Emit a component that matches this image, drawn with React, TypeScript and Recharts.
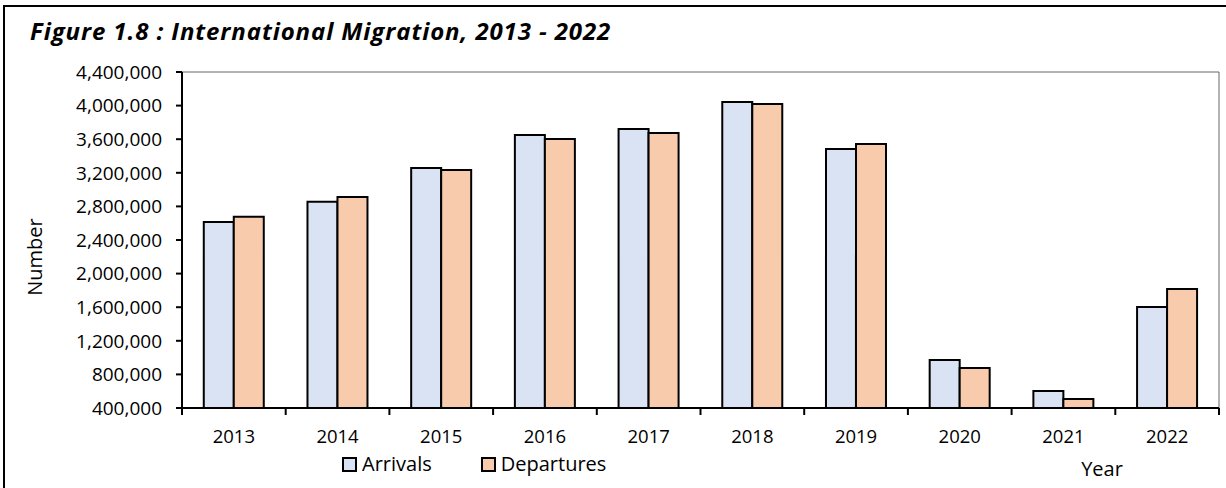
import React from 'react';
import { BarChart, Bar, XAxis, YAxis, Legend, ReferenceArea } from 'recharts';

const years = ['2013', '2014', '2015', '2016', '2017', '2018', '2019', '2020', '2021', '2022'];
const arrivals = [2614000, 2856000, 3257000, 3650000, 3721000, 4043000, 3483000, 971000, 602000, 1602000];
const departures = [2677000, 2912000, 3233000, 3602000, 3674000, 4019000, 3543000, 876000, 507000, 1817000];
const yTicks = [400000, 800000, 1200000, 1600000, 2000000, 2400000, 2800000, 3200000, 3600000, 4000000, 4400000];

const data = years.map((y, i) => ({ year: y, Arrivals: arrivals[i], Departures: departures[i] }));

const FONT = '"Open Sans", "Noto Sans", sans-serif';
const CHART_W = 1226;
const CHART_H = 488;
const YAXIS_W = 182;
const MARGIN = { top: 72, right: 7, bottom: 0, left: 0 };
const PLOT_W = CHART_W - YAXIS_W - MARGIN.right - MARGIN.left;

const fmt = (v: number) => v.toLocaleString('en-US');

const XTick = (props: any) => {
  const { x, y, payload, index } = props;
  const band = PLOT_W / years.length;
  const left = x - band / 2;
  const right = x + band / 2;
  return (
    <g>
      <line x1={left} y1={y} x2={left} y2={y + 7} stroke="#000" strokeWidth={2} />
      {index === years.length - 1 && (
        <line x1={right} y1={y} x2={right} y2={y + 7} stroke="#000" strokeWidth={2} />
      )}
      <text x={x} y={y + 35} textAnchor="middle" fontFamily={FONT} fontSize={18.5} fill="#000">
        {payload.value}
      </text>
    </g>
  );
};

const YLabel = (props: any) => {
  const vb = props.viewBox || { x: 0, y: 72, width: 182, height: 336 };
  const cx = vb.x + 34;
  const cy = vb.y + vb.height / 2 + 17;
  return (
    <text
      x={cx}
      y={cy}
      transform={`rotate(-90 ${cx} ${cy})`}
      textAnchor="middle"
      dominantBaseline="central"
      fontFamily={FONT}
      fontSize={20}
      fill="#000"
    >
      Number
    </text>
  );
};

const XLabel = (props: any) => {
  const vb = props.viewBox || { x: 182, y: 408, width: 1037, height: 80 };
  return (
    <text
      x={vb.x + vb.width - 117}
      y={vb.y + 68}
      textAnchor="middle"
      fontFamily={FONT}
      fontSize={20}
      fill="#000"
    >
      Year
    </text>
  );
};

const renderLegend = (props: any) => {
  const { payload } = props;
  return (
    <div style={{ display: 'flex', alignItems: 'center', fontFamily: FONT, fontSize: 20, color: '#000', lineHeight: '26px' }}>
      {(payload || []).map((p: any, i: number) => (
        <div key={i} style={{ display: 'flex', alignItems: 'center', marginRight: i === 0 ? 49 : 0 }}>
          <span
            style={{
              display: 'inline-block',
              width: 11,
              height: 11,
              border: '2px solid #000',
              background: p.color,
              marginRight: 5,
            }}
          />
          <span>{p.value}</span>
        </div>
      ))}
    </div>
  );
};

export default function App() {
  return (
    <div
      style={{
        position: 'absolute',
        left: 0,
        top: 0,
        width: CHART_W,
        height: CHART_H,
        background: '#fff',
        overflow: 'hidden',
      }}
    >
      <div
        style={{
          position: 'absolute',
          left: 3,
          top: 5,
          width: CHART_W,
          height: CHART_H,
          borderLeft: '2px solid #000',
          borderTop: '2px solid #000',
          boxSizing: 'border-box',
        }}
      />
      <div
        style={{
          position: 'absolute',
          left: 30,
          top: 17,
          fontFamily: FONT,
          fontWeight: 700,
          fontStyle: 'italic',
          fontSize: 24,
          lineHeight: '28px',
          color: '#000',
          whiteSpace: 'nowrap',
          letterSpacing: '0.9px',
        }}
      >
        Figure 1.8 : International Migration, 2013 - 2022
      </div>
      <div style={{ position: 'absolute', left: 0, top: 0 }}>
        <BarChart
          width={CHART_W}
          height={CHART_H}
          data={data}
          margin={MARGIN}
          barCategoryGap="21%"
          barGap={0}
        >
          <ReferenceArea
            y1={400000}
            y2={4400000}
            fill="none"
            stroke="#666"
            strokeWidth={1}
            ifOverflow="visible"
          />
          <XAxis
            dataKey="year"
            height={80}
            axisLine={{ stroke: '#000', strokeWidth: 2 }}
            tickLine={false}
            tickSize={0}
            tickMargin={0}
            tick={<XTick />}
            interval={0}
            label={XLabel}
          />
          <YAxis
            width={YAXIS_W}
            domain={[400000, 4400000]}
            ticks={yTicks}
            interval={0}
            tickFormatter={fmt}
            axisLine={{ stroke: '#000', strokeWidth: 2 }}
            tickLine={{ stroke: '#000', strokeWidth: 2 }}
            tickSize={6}
            tickMargin={14}
            tick={{ fontFamily: FONT, fontSize: 19, fill: '#000' }}
            allowDataOverflow
            label={YLabel}
          />
          <Legend
            layout="horizontal"
            verticalAlign="middle"
            align="center"
            content={renderLegend}
            wrapperStyle={{ top: 451, left: 342, width: 'auto', height: 'auto' }}
          />
          <Bar dataKey="Arrivals" fill="#DAE3F3" stroke="#000" strokeWidth={2} isAnimationActive={false} />
          <Bar dataKey="Departures" fill="#F8CBAD" stroke="#000" strokeWidth={2} isAnimationActive={false} />
        </BarChart>
      </div>
    </div>
  );
}
